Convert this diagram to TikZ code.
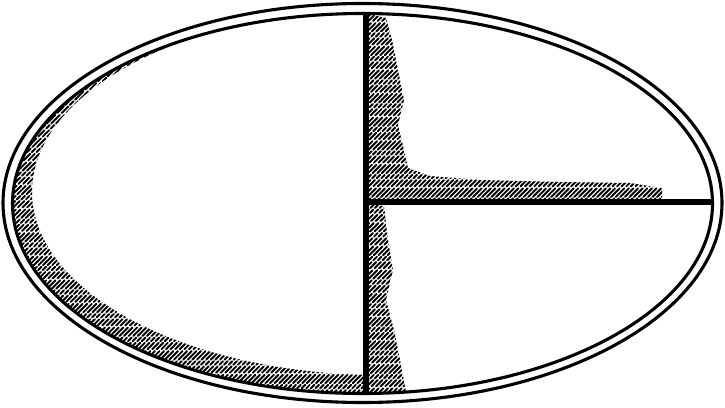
\documentclass[tikz,border=0pt]{standalone}
\begin{document}
\begin{tikzpicture}[x=1pt,y=-1pt,
  rim/.style={line width=3.1pt},
  divider/.style={line width=5.6pt},
  hatch/.style={line width=1.9pt, line cap=round, dash pattern=on 9pt off 2.4pt on 5pt off 2.2pt on 12pt off 2.8pt}]
\useasboundingbox (0,0) rectangle (725,407);
% double rim
\draw[rim] (362.5,203) ellipse [x radius=359.5, y radius=199.5];
\draw[rim] (362.5,203.5) ellipse [x radius=350, y radius=190];
% hatching along the left inner edge
\begin{scope}
  \clip (0,0) rectangle (364,407);
  \clip (362.5,203.5) ellipse [x radius=350, y radius=190];
  \begin{scope}[even odd rule]
    \clip (362.5,203.5) ellipse [x radius=350, y radius=190]
         (381,192) ellipse [x radius=349, y radius=183];
    \foreach \i in {-420,-415.4,...,800} \draw[hatch] (\i,420) -- ++(440,-440);
  \end{scope}
\end{scope}
% hatching right of the vertical divider, upper part
\begin{scope}
  \clip (368,14) -- (386,18) -- (392,40) -- (398,70) -- (404,100) -- (398,125)
        -- (404,150) -- (408,168) -- (430,176) -- (480,180) -- (560,182)
        -- (630,183) -- (662,188) -- (662,200) -- (368,200) -- cycle;
  \foreach \i in {0,4.6,...,720} \draw[hatch] (\i,210) -- ++(220,-220);
\end{scope}
% hatching right of the vertical divider, lower part
\begin{scope}
  \clip (368,204) -- (384,206) -- (388,240) -- (393,270) -- (386,300)
        -- (394,330) -- (400,360) -- (406,392) -- (368,395) -- cycle;
  \foreach \i in {150,154.6,...,600} \draw[hatch] (\i,410) -- ++(230,-230);
\end{scope}
% dividers
\coordinate (top) at (366,13);
\coordinate (bottom) at (366,394);
\coordinate (mid) at (366,202);
\coordinate (right) at (713,202);
\draw[divider] (top) -- (bottom);
\draw[divider] (mid) -- (right);
\end{tikzpicture}
\end{document}
